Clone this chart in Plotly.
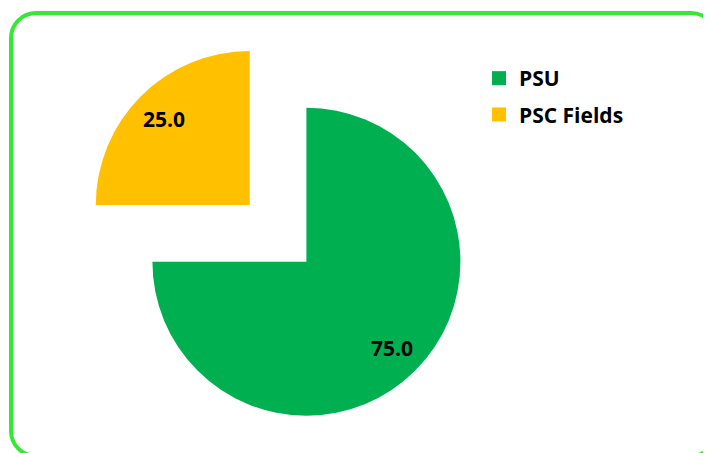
import math
import plotly.graph_objects as go

# ---- data ----
labels = ["PSU", "PSC Fields"]
values = [75.0, 25.0]
colors = ["#00B050", "#FFC000"]
pulled = [False, True]

# ---- layout constants (pixels, figure coordinates) ----
W, H = 711, 453
OFF = 8                     # page margin compensation
CX, CY = 306.4 - OFF, 261.7 - OFF   # centre of main pie
R = 154                     # radius
PULL = 0.52                 # explode fraction for pulled slice
LABEL_FRAC = 0.79           # radial position of value labels
FONT = "Open Sans"

total = sum(values)
# slice mid angles (degrees, counter-clockwise from +x), pie starts at 12 o'clock, clockwise
mids = []
start = 90.0
for v in values:
    span = 360.0 * v / total
    mids.append(start - span / 2)
    start -= span

fig = go.Figure()
annotations = []
for i, (lab, val, col, pl, mid) in enumerate(zip(labels, values, colors, pulled, mids)):
    a = math.radians(mid)
    off = PULL * R if pl else 0.0
    cx = CX + off * math.cos(a)
    cy = CY - off * math.sin(a)
    slice_colors = ["rgba(0,0,0,0)"] * len(values)
    slice_colors[i] = col
    fig.add_trace(go.Pie(
        labels=labels, values=values, sort=False, direction="clockwise", rotation=0,
        marker=dict(colors=slice_colors, line=dict(width=0)),
        textinfo="none", hoverinfo="skip", showlegend=False,
        domain=dict(x=[(cx - R) / W, (cx + R) / W],
                    y=[(H - cy - R) / H, (H - cy + R) / H]),
    ))
    annotations.append(dict(
        x=cx + LABEL_FRAC * R * math.cos(a), y=cy - LABEL_FRAC * R * math.sin(a),
        xref="x", yref="y", text=f"{val:.1f}", showarrow=False,
        font=dict(family=FONT, size=21, color="black", weight="bold"),
        xanchor="center", yanchor="middle",
    ))

# legend entries
for i, (lab, col) in enumerate(zip(labels, colors)):
    fig.add_trace(go.Scatter(
        x=[None], y=[None], mode="markers", name=lab, legendgroup=f"g{i}",
        marker=dict(symbol="square", size=14, color=col),
    ))

# rounded border
L, T, Rt, B, rad = 11 - OFF, 13 - OFF, 716 - OFF, 456 - OFF, 25
k = 0.5523 * rad
path = (f"M{L+rad},{T} L{Rt-rad},{T} C{Rt-rad+k},{T} {Rt},{T+rad-k} {Rt},{T+rad} "
        f"L{Rt},{B-rad} C{Rt},{B-rad+k} {Rt-rad+k},{B} {Rt-rad},{B} "
        f"L{L+rad},{B} C{L+rad-k},{B} {L},{B-rad+k} {L},{B-rad} "
        f"L{L},{T+rad} C{L},{T+rad-k} {L+rad-k},{T} {L+rad},{T} Z")

fig.update_layout(
    width=W, height=H, margin=dict(l=0, r=0, t=0, b=0),
    paper_bgcolor="white", plot_bgcolor="rgba(0,0,0,0)",
    xaxis=dict(range=[0, W], visible=False, fixedrange=True),
    yaxis=dict(range=[H, 0], visible=False, fixedrange=True),
    shapes=[dict(type="path", path=path, xref="x", yref="y",
                 line=dict(color="#35E835", width=4), layer="above")],
    annotations=annotations,
    legend=dict(x=471 / W, y=1 - (58 - OFF) / H, xanchor="left", yanchor="top",
                font=dict(family=FONT, size=21, color="black", weight="bold"),
                tracegroupgap=6, bgcolor="rgba(0,0,0,0)"),
    showlegend=True,
)

fig.write_html("out.html")
